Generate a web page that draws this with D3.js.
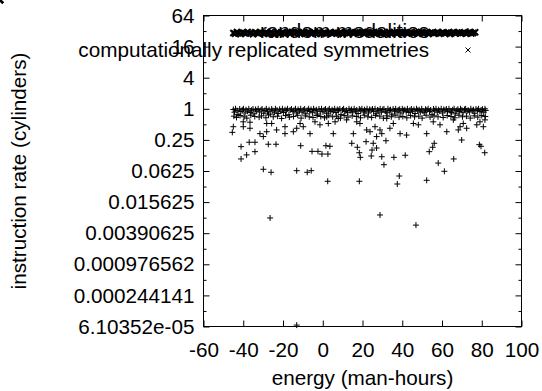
<!DOCTYPE html>
<html><head><meta charset="utf-8">
<script src="https://cdn.jsdelivr.net/npm/d3@7"></script>
<style>
body{margin:0;background:#fff}
svg text{font-family:"Liberation Sans",Arial,Helvetica,sans-serif;fill:#000}
</style></head>
<body><svg id="c" width="542" height="391"></svg>
<script>
// ---- data ----
const xTickValues = [-60,-40,-20,0,20,40,60,80,100];
const xTickLabels = ["-60","-40","-20","0","20","40","60","80","100"];
const yTickExps = [3,2,1,0,-1,-2,-3,-4,-5,-6,-7];
const yTickLabels = ["64","16","4","1","0.25","0.0625","0.015625","0.00390625","0.000976562","0.000244141","6.10352e-05"];
const seriesNames = ["random modalities","computationally replicated symmetries"];
const xLabel = "energy (man-hours)";
const yLabel = "instruction rate (cylinders)";

// random modalities: dense row near 1
const modalitiesRow = [[-45.0,0.97],[-44.4,0.86],[-43.9,1.0],[-43.1,0.92],[-42.6,0.78],[-41.8,0.99],[-41.2,0.89],[-40.5,0.95],[-39.9,1.0],[-39.1,0.83],[-38.6,0.96],[-37.8,0.9],[-37.2,1.0],[-36.5,0.85],[-35.9,0.94],[-35.1,0.99],[-34.6,0.8],[-33.8,0.97],[-33.2,0.91],[-32.5,1.0],[-31.9,0.87],[-31.0,0.95],[-30.5,0.99],[-29.7,0.82],[-29.1,0.93],[-28.4,1.0],[-27.8,0.88],[-27.0,0.96],[-26.4,0.79],[-25.7,0.99],[-25.1,0.92],[-24.3,0.86],[-23.8,1.0],[-23.0,0.94],[-22.4,0.81],[-21.7,0.98],[-21.1,0.9],[-20.3,1.0],[-19.8,0.85],[-19.0,0.96],[-18.3,0.92],[-17.7,1.0],[-17.0,0.77],[-16.4,0.95],[-15.7,0.99],[-15.0,0.88],[-14.5,0.94],[-13.7,1.0],[-13.1,0.83],[-12.4,0.97],[-11.8,0.91],[-11.1,1.0],[-10.4,0.86],[-9.8,0.95],[-9.1,0.99],[-8.5,0.8],[-7.8,0.93],[-7.1,1.0],[-6.5,0.89],[-5.9,0.97],[-5.2,0.84],[-4.6,1.0],[-3.9,0.92],[-3.2,0.96],[-2.6,0.79],[-1.9,0.99],[-1.3,0.9],[-0.6,1.0],[0.1,0.87],[0.7,0.95],[1.4,0.99],[2.0,0.82],[2.7,0.94],[3.3,1.0],[4.0,0.88],[4.7,0.96],[5.3,0.91],[6.0,1.0],[6.6,0.85],[7.3,0.97],[7.9,0.93],[8.6,0.99],[9.2,0.78],[9.9,0.95],[10.5,1.0],[11.2,0.89],[11.9,0.94],[12.5,0.84],[13.2,1.0],[13.8,0.92],[14.5,0.97],[15.1,0.86],[15.8,1.0],[16.4,0.9],[17.1,0.95],[17.8,0.81],[18.4,0.99],[19.1,0.93],[19.7,1.0],[20.4,0.87],[21.0,0.96],[21.7,0.91],[22.3,1.0],[23.0,0.83],[23.6,0.97],[24.3,0.94],[25.0,0.99],[25.6,0.88],[26.3,1.0],[26.9,0.8],[27.6,0.95],[28.2,0.92],[28.9,1.0],[29.5,0.86],[30.2,0.97],[30.8,0.99],[31.5,0.9],[32.2,0.84],[32.8,1.0],[33.5,0.93],[34.1,0.96],[34.8,0.79],[35.4,0.99],[36.1,0.91],[36.7,1.0],[37.4,0.87],[38.0,0.95],[38.7,0.98],[39.3,0.83],[40.0,1.0],[40.6,0.92],[41.3,0.96],[42.0,0.88],[42.6,1.0],[43.3,0.85],[43.9,0.94],[44.6,0.99],[45.2,0.9],[45.9,0.97],[46.5,0.81],[47.2,1.0],[47.8,0.93],[48.5,0.96],[49.1,0.87],[49.8,1.0],[50.4,0.91],[51.1,0.84],[51.7,0.98],[52.4,0.94],[53.0,1.0],[53.7,0.89],[54.3,0.95],[55.0,0.78],[55.7,0.99],[56.3,0.92],[57.0,1.0],[57.6,0.86],[58.3,0.96],[58.9,0.9],[59.6,1.0],[60.2,0.83],[60.9,0.97],[61.5,0.94],[62.2,0.99],[62.8,0.88],[63.5,1.0],[64.1,0.91],[64.8,0.85],[65.4,0.96],[66.1,1.0],[66.7,0.8],[67.4,0.93],[68.0,0.98],[68.7,0.89],[69.3,1.0],[70.0,0.95],[70.6,0.84],[71.3,0.97],[71.9,1.0],[72.6,0.9],[73.2,0.94],[73.9,0.87],[74.5,1.0],[75.2,0.92],[75.8,0.96],[76.5,0.82],[77.1,0.99],[77.8,0.93],[78.4,1.0],[79.1,0.88],[79.7,0.95],[80.4,0.98],[81.0,0.86],[81.6,1.0],[82.0,0.93]];
const modalitiesLower = [[-44.7,0.72],[-43.4,0.68],[-41.6,0.74],[-39.6,0.7],[-38.2,0.66],[-36.2,0.75],[-34.2,0.71],[-32.0,0.69],[-30.8,0.73],[-28.6,0.67],[-27.3,0.76],[-24.9,0.7],[-22.8,0.72],[-20.7,0.65],[-18.7,0.74],[-16.8,0.69],[-14.7,0.71],[-12.6,0.75],[-10.9,0.66],[-8.8,0.73],[-6.8,0.7],[-4.9,0.68],[-2.9,0.74],[-1.0,0.71],[0.9,0.67],[3.0,0.75],[5.0,0.7],[7.0,0.72],[8.9,0.66],[10.8,0.74],[12.7,0.69],[14.8,0.73],[16.9,0.71],[19.0,0.67],[20.9,0.75],[22.7,0.7],[24.6,0.68],[26.6,0.74],[28.7,0.72],[30.5,0.66],[32.4,0.73],[34.5,0.7],[36.4,0.75],[38.4,0.69],[40.3,0.71],[42.3,0.67],[44.2,0.74],[46.2,0.7],[48.3,0.72],[50.0,0.66],[52.0,0.75],[54.0,0.69],[56.0,0.73],[58.0,0.7],[60.6,0.68],[62.6,0.74],[64.5,0.71],[66.4,0.67],[68.5,0.75],[70.3,0.7],[72.3,0.72],[74.2,0.66],[76.2,0.73],[78.0,0.69],[80.0,0.74],[81.8,0.71]];
const modalitiesMid = [[-45.5,0.35],[-45.0,0.45],[-40.0,0.56],[-40.0,0.45],[-36.6,0.55],[-36.6,0.42],[-31.6,0.33],[-29.9,0.29],[-28.2,0.36],[-28.2,0.52],[-25.7,0.52],[-23.2,0.39],[-19.0,0.33],[-19.0,0.45],[-14.8,0.36],[-13.1,0.42],[-11.4,0.52],[-9.8,0.45],[-6.4,0.33],[-3.9,0.56],[-1.4,0.49],[2.0,0.70],[2.8,0.52],[5.3,0.33],[6.2,0.56],[7.8,0.65],[12.0,0.61],[15.4,0.33],[17.1,0.56],[18.7,0.52],[22.1,0.39],[23.8,0.36],[26.3,0.45],[27.1,0.29],[28.8,0.39],[29.7,0.33],[32.2,0.65],[33.8,0.42],[35.5,0.52],[38.9,0.33],[42.2,0.31],[45.6,0.52],[48.1,0.49],[52.3,0.33],[55.6,0.56],[59.0,0.49],[62.4,0.36],[65.7,0.61],[68.2,0.39],[69.1,0.45],[70.7,0.52],[72.4,0.42],[77.5,0.49],[79.1,0.56],[80.8,0.45],[81.6,0.61]];
const modalitiesLow = [[-41.1,0.185],[-41.1,0.107],[-38.3,0.128],[-37.0,0.225],[-34.1,0.225],[-34.1,0.148],[-29.9,0.0675],[-27.4,0.206],[-26.0,0.059],[-23.5,0.206],[-26.5,0.0077],[-13.1,0.0634],[-11.1,0.193],[-7.8,0.059],[-5.8,0.0634],[-5.4,0.150],[-2.4,0.150],[-0.4,0.133],[1.6,0.193],[2.6,0.133],[3.6,0.188],[2.5,0.0395],[14.6,0.215],[17.4,0.180],[18.4,0.141],[18.9,0.115],[18.4,0.0395],[21.8,0.231],[24.8,0.159],[24.4,0.122],[25.4,0.215],[27.1,0.174],[28.8,0.0088],[29.7,0.118],[30.8,0.0828],[31.8,0.241],[35.8,0.115],[37.5,0.035],[38.5,0.050],[41.5,0.126],[46.9,0.0056],[52.3,0.0413],[53.6,0.148],[55.3,0.180],[56.1,0.215],[58.1,0.089],[61.2,0.0617],[65.9,0.107],[69.9,0.249],[78.8,0.202],[79.6,0.188],[81.5,0.141],[-13.1,0.000065]];

// computationally replicated symmetries: band near 29
const symmetriesX = [-45,-44.1,-43.2,-42.4,-41.3,-40.5,-39.6,-38.6,-37.8,-36.9,-35.9,-35.1,-34.0,-33.2,-32.3,-31.4,-30.4,-29.6,-28.7,-27.7,-26.9,-26.0,-25.1,-24.2,-23.2,-22.4,-21.5,-20.5,-19.7,-18.8,-17.8,-17.0,-16.1,-15.1,-14.3,-13.4,-12.4,-11.6,-10.7,-9.7,-8.9,-8.0,-7.0,-6.2,-5.3,-4.3,-3.5,-2.6,-1.6,-0.8,0.1,1.1,1.9,2.8,3.8,4.6,5.5,6.5,7.3,8.2,9.2,10.0,10.9,11.9,12.7,13.6,14.6,15.4,16.3,17.3,18.1,19.0,20.0,20.8,21.7,22.7,23.5,24.4,25.4,26.2,27.1,28.1,28.9,29.8,30.8,31.6,32.5,33.5,34.3,35.2,36.2,37.0,37.9,38.9,39.7,40.6,41.6,42.4,43.3,44.3,45.1,46.0,47.0,47.8,48.7,49.7,50.5,51.4,52.4,53.2,54.1,55.1,55.9,56.8,57.8,58.6,59.5,60.5,61.3,62.2,63.2,64.0,64.9,65.9,66.7,67.6,68.6,69.4,70.3,71.3,72.1,73.0,74.0,74.8,75.7,76.7,77.5,78.4,79.4,80.2,81.1,82.0];
const symmetriesY = [29.4,28.3,30.6,29.0,27.9,30.1,29.6,28.6,30.8,28.9,29.8,27.8,30.3,29.2,28.5,30.7,29.5,28.1,30.0,29.3,28.7,30.9,29.1,28.0,30.4,29.7,28.4,30.2,29.0,27.9,30.6,29.4,28.8,30.5,28.2,29.9,30.8,28.6,29.3,30.1,27.9,29.6,30.7,28.9,29.2,30.3,28.4,29.8,30.9,28.1,29.5,30.2,28.7,29.0,30.6,28.3,29.7,30.4,28.8,29.1,30.8,27.8,29.6,30.0,28.5,29.4,30.7,28.2,29.9,30.3,28.9,29.2,30.5,28.0,29.7,30.9,28.6,29.3,30.1,28.4,29.8,30.6,28.7,29.0,30.4,27.9,29.5,30.8,28.3,29.2,30.0,28.8,29.6,30.7,28.1,29.9,30.2,28.5,29.4,30.5,28.9,29.1,30.9,28.2,29.7,30.3,28.6,29.3,30.6,28.0,29.8,30.1,28.7,29.5,30.8,28.4,29.0,30.4,28.9,29.6,30.2,27.9,29.3,30.7,28.5,29.9,30.0,28.8,29.2,30.5,28.3,29.7,30.9,28.6,29.4,30.3];

// ---- chart ----
const svg = d3.select("#c");
const L = 203.5, R = 521.5, T = 15.5, B = 326.5;
const FS = 20.7;
const x = d3.scaleLinear().domain([-60,100]).range([L,R]);
const y = d3.scaleLog().base(4).domain([Math.pow(4,-7), Math.pow(4,3)]).range([B,T]);

const majorY = yTickExps.map(e => Math.pow(4,e));
const minorY = yTickExps.slice(1).map(e => Math.pow(4,e)*2);

function styleAxis(g){
  g.select(".domain").remove();
  g.selectAll("line").attr("stroke","#000").attr("stroke-width",1);
  g.selectAll("text").attr("font-size",FS).attr("font-family","'Liberation Sans',Arial,sans-serif").attr("fill","#000");
}

svg.append("g").attr("transform",`translate(0,${B})`)
  .call(d3.axisBottom(x).tickValues(xTickValues).tickSize(-6).tickSizeOuter(0).tickPadding(16).tickFormat((d,i)=>xTickLabels[i]))
  .call(styleAxis);
svg.append("g").attr("transform",`translate(0,${T})`)
  .call(d3.axisTop(x).tickValues(xTickValues).tickSize(-6).tickSizeOuter(0).tickFormat(""))
  .call(styleAxis);
svg.append("g").attr("transform",`translate(${L},0)`)
  .call(d3.axisLeft(y).tickValues(majorY).tickSize(-6).tickSizeOuter(0).tickPadding(9).tickFormat((d,i)=>yTickLabels[i]))
  .call(styleAxis);
svg.append("g").attr("transform",`translate(${L},0)`)
  .call(d3.axisLeft(y).tickValues(minorY).tickSize(-3).tickSizeOuter(0).tickFormat(""))
  .call(styleAxis);
svg.append("g").attr("transform",`translate(${R},0)`)
  .call(d3.axisRight(y).tickValues(majorY).tickSize(-6).tickSizeOuter(0).tickFormat(""))
  .call(styleAxis);
svg.append("g").attr("transform",`translate(${R},0)`)
  .call(d3.axisRight(y).tickValues(minorY).tickSize(-3).tickSizeOuter(0).tickFormat(""))
  .call(styleAxis);

svg.append("rect").attr("x",L).attr("y",T).attr("width",R-L).attr("height",B-T)
  .attr("fill","none").attr("stroke","#000").attr("stroke-width",1);

// axis titles
svg.append("text").attr("x",(L+R)/2).attr("y",385).attr("text-anchor","middle").attr("font-size",FS).text(xLabel);
svg.append("text").attr("transform",`translate(26,${(T+B)/2}) rotate(-90)`).attr("text-anchor","middle").attr("font-size",FS).text(yLabel);

// legend text
const keyTextX = 429, keySampleX = 468, keyRows = [31, 50];
seriesNames.forEach((n,i)=>{
  svg.append("text").attr("x",keyTextX).attr("y",keyRows[i]).attr("dy","0.35em")
    .attr("text-anchor","end").attr("font-size",FS).text(n);
});

const plusPath = "M-3,0H3M0,-3V3";
const crossPath = "M-3,-3L3,3M-3,3L3,-3";

const modalities = modalitiesRow.concat(modalitiesLower, modalitiesMid, modalitiesLow);
svg.append("g").selectAll("path").data(modalities).join("path")
  .attr("transform",d=>`translate(${x(d[0])},${y(d[1])})`)
  .attr("d",plusPath).attr("stroke","#000").attr("stroke-width",1).attr("fill","none");

const symmetries = symmetriesX.map((v,i)=>[v,symmetriesY[i]]);
svg.append("g").selectAll("path").data(symmetries).join("path")
  .attr("transform",d=>`translate(${x(d[0])},${y(d[1])})`)
  .attr("d",crossPath).attr("stroke","#000").attr("stroke-width",2).attr("fill","none");

// key samples
svg.append("path").attr("transform",`translate(${keySampleX},${keyRows[0]})`).attr("d",plusPath).attr("stroke","#000").attr("fill","none");
svg.append("path").attr("transform",`translate(${keySampleX},${keyRows[1]})`).attr("d","M-2.5,-2.5L2.5,2.5M-2.5,2.5L2.5,-2.5").attr("stroke","#000").attr("fill","none");
</script>
</body></html>
